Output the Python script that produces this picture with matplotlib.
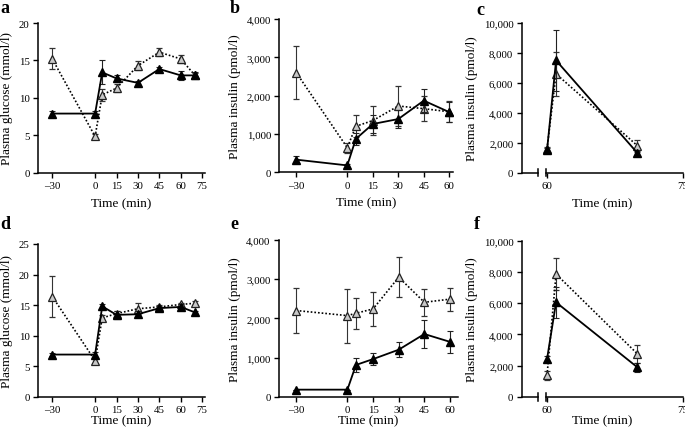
import matplotlib
matplotlib.use("Agg")
import matplotlib.pyplot as plt
import matplotlib.transforms as mtransforms
from matplotlib.ticker import FuncFormatter

plt.rcParams['font.family'] = ['Liberation Serif', 'DejaVu Serif']

# ---------------- data ----------------
T_GLU = [-30, 0, 5, 15, 30, 45, 60, 70]
T_INS = [-30, 0, 5, 15, 30, 45, 60]
T_CLAMP = [60, 61, 70]

# panel a: plasma glucose
a_solid = [7.9, 7.9, 13.4, 12.6, 12.0, 13.85, 13.0, 13.0]
a_solid_err = [0.3, 0.3, 1.6, 0.5, 0.3, 0.3, 0.6, 0.4]
a_dot = [15.2, 4.85, 10.4, 11.3, 14.3, 16.1, 15.2, 13.0]
a_dot_err = [1.4, 0.3, 0.8, 0.5, 0.6, 0.5, 0.5, 0.3]

# panel b: plasma insulin
b_solid = [330, 180, 870, 1260, 1390, 1870, 1570]
b_solid_err = [100, 30, 150, 230, 230, 300, 270]
b_dot = [2600, 640, 1200, 1350, 1730, 1660, 1580]
b_dot_err = [700, 130, 290, 380, 530, 330, 280]

# panel c: plasma insulin (60-75 min)
c_solid = [1500, 7500, 1310]
c_solid_err = [150, 2050, 150]
c_dot = [1600, 6600, 1800]
c_dot_err = [150, 1450, 400]

# panel d: plasma glucose
d_solid = [6.9, 6.9, 14.8, 13.4, 13.5, 14.5, 14.7, 13.8]
d_solid_err = [0.3, 0.5, 0.4, 0.6, 0.5, 0.4, 0.5, 0.3]
d_dot = [16.4, 5.9, 12.9, 13.6, 14.4, 14.7, 15.1, 15.3]
d_dot_err = [3.3, 0.5, 0.5, 0.5, 0.9, 0.3, 0.3, 0.3]

# panel e: plasma insulin
e_solid = [180, 180, 810, 960, 1200, 1600, 1400]
e_solid_err = [0, 0, 190, 150, 190, 360, 280]
e_dot = [2200, 2070, 2130, 2240, 3050, 2410, 2490]
e_dot_err = [570, 690, 400, 440, 510, 340, 290]

# panel f: plasma insulin (60-75 min)
f_solid = [2410, 6050, 1880]
f_solid_err = [200, 1000, 300]
f_dot = [1370, 7860, 2740]
f_dot_err = [300, 1000, 560]

XT_MAIN = [-30, 0, 15, 30, 45, 60, 75]
XT_MAIN_LAB = ['\u201330', '0', '15', '30', '45', '60', '75']
XT_INS = [-30, 0, 15, 30, 45, 60]
XT_INS_LAB = ['\u201330', '0', '15', '30', '45', '60']
XT_CLAMP = [60, 75]

# ---------------- style helpers ----------------
fig = plt.figure(figsize=(6.85, 4.31), dpi=100)

def style(ax):
    for s in ['top', 'right']:
        ax.spines[s].set_visible(False)
    for s in ['left', 'bottom']:
        ax.spines[s].set_linewidth(1.1)
    ax.tick_params(direction='out', length=3.5, width=1.0, labelsize=7.8, pad=2.5)

def series(ax, t, y, err, solid):
    if solid:
        ax.errorbar(t, y, yerr=err, color='black', lw=1.3, ls='-', marker='^',
                    ms=6, mfc='black', mec='black', ecolor='#222222',
                    elinewidth=0.8, capsize=2.5, capthick=0.8, zorder=3)
    else:
        ax.errorbar(t, y, yerr=err, color='black', lw=1.2, ls=(0, (1, 1.2)), marker='^',
                    ms=6, mfc='#c8c8c8', mec='#222222', mew=0.9, ecolor='#333333',
                    elinewidth=0.8, capsize=2.5, capthick=0.8, zorder=2)

def comma(v, p):
    return f"{int(v):,}"

def px_axes(l, t, r, b):
    return fig.add_axes([l / 685, 1 - b / 431, (r - l) / 685, (b - t) / 431])

def labels(ax, ylabel, xpad):
    ax.set_ylabel(ylabel, fontsize=9.5, labelpad=4)
    ax.set_xlabel('Time (min)', fontsize=9.5, labelpad=xpad)

def glucose_panel(ax, ys, es, yd, ed, ymax, yticks, xpad):
    series(ax, T_GLU, yd, ed, False)
    series(ax, T_GLU, ys, es, True)
    ax.set_xlim(-40, 77)
    ax.set_ylim(0, ymax)
    ax.set_yticks(yticks)
    ax.set_xticks(XT_MAIN)
    ax.set_xticklabels(XT_MAIN_LAB)
    labels(ax, 'Plasma glucose (mmol/l)', xpad)
    style(ax)

def insulin_panel(ax, ys, es, yd, ed, xmax, xpad):
    series(ax, T_INS, yd, ed, False)
    series(ax, T_INS, ys, es, True)
    ax.set_xlim(-40, xmax)
    ax.set_ylim(0, 4000)
    ax.set_yticks([0, 1000, 2000, 3000, 4000])
    ax.yaxis.set_major_formatter(FuncFormatter(comma))
    ax.set_xticks(XT_INS)
    ax.set_xticklabels(XT_INS_LAB)
    labels(ax, 'Plasma insulin (pmol/l)', xpad)
    style(ax)

def clamp_panel(ax, ys, es, yd, ed, xpad):
    series(ax, T_CLAMP, yd, ed, False)
    series(ax, T_CLAMP, ys, es, True)
    ax.set_xlim(57.2, 75)
    ax.set_ylim(0, 10000)
    ax.set_yticks([0, 2000, 4000, 6000, 8000, 10000])
    ax.yaxis.set_major_formatter(FuncFormatter(comma))
    ax.set_xticks(XT_CLAMP)
    labels(ax, 'Plasma insulin (pmol/l)', xpad)
    style(ax)
    # broken x axis
    ax.spines['bottom'].set_bounds(59.9, 75)
    tr = mtransforms.blended_transform_factory(ax.transData, ax.transAxes)
    ax.plot([57.2, 59.0], [0, 0], color='black', lw=1.1, transform=tr, clip_on=False)
    for xb in (59.0, 59.9):
        ax.plot([xb, xb], [-0.025, 0.025], color='black', lw=1.1, transform=tr, clip_on=False)

# ---------------- panels ----------------
ax_a = px_axes(38, 24, 205, 173.7)
glucose_panel(ax_a, a_solid, a_solid_err, a_dot, a_dot_err, 20, [0, 5, 10, 15, 20], 5)

ax_b = px_axes(279.3, 20, 452.7, 173.3)
insulin_panel(ax_b, b_solid, b_solid_err, b_dot, b_dot_err, 62, 5)

ax_c = px_axes(521.7, 24, 682.7, 173.7)
clamp_panel(ax_c, c_solid, c_solid_err, c_dot, c_dot_err, 5)

ax_d = px_axes(38, 245, 205, 397.7)
glucose_panel(ax_d, d_solid, d_solid_err, d_dot, d_dot_err, 25, [0, 5, 10, 15, 20, 25], 0.5)

ax_e = px_axes(279, 241, 457.7, 397.7)
insulin_panel(ax_e, e_solid, e_solid_err, e_dot, e_dot_err, 64.5, 0.5)

ax_f = px_axes(521.7, 241.7, 682.7, 397.7)
clamp_panel(ax_f, f_solid, f_solid_err, f_dot, f_dot_err, 0.5)

# panel letters
for lab, x, y in [('a', 0, 0), ('b', 230, 0), ('c', 476, 2),
                  ('d', 0, 216), ('e', 230, 216), ('f', 474, 216)]:
    fig.text(x / 685, 1 - y / 431, lab, fontsize=13, fontweight='bold',
             ha='left', va='top')

fig.savefig('out.png', dpi=100)
